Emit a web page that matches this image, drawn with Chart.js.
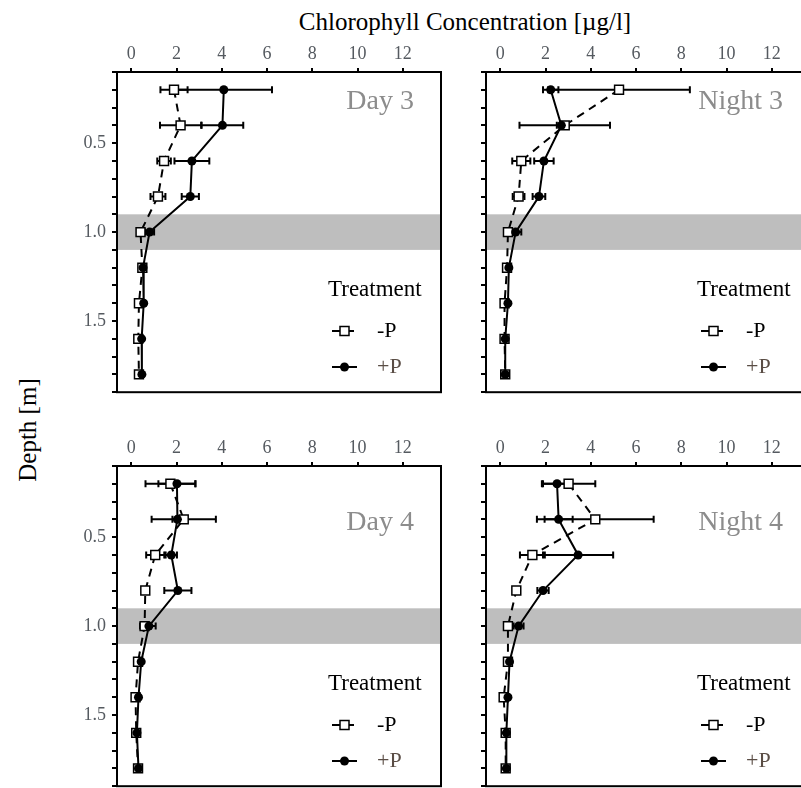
<!DOCTYPE html>
<html>
<head>
<meta charset="utf-8">
<script src="https://cdn.jsdelivr.net/npm/chart.js@4"></script>
<style>
  html, body { margin: 0; padding: 0; background: #fff; }
  body { position: relative; width: 801px; height: 788px; overflow: hidden; font-family: "Liberation Serif", serif; }
  canvas { position: absolute; }
  .lbl { position: absolute; color: #000; white-space: nowrap; }
</style>
</head>
<body>
<div class="lbl" id="xTitle" style="left:465px; top:22px; font-size:25px; transform:translate(-50%,-50%);">Chlorophyll Concentration [µg/l]</div>
<div class="lbl" id="yTitle" style="left:28px; top:430px; font-size:25px; transform:translate(-50%,-50%) rotate(-90deg);">Depth [m]</div>
<canvas id="day3" width="390" height="360" style="left:60px; top:40px;"></canvas>
<canvas id="night3" width="380" height="360" style="left:440px; top:40px;"></canvas>
<canvas id="day4" width="390" height="360" style="left:60px; top:434px;"></canvas>
<canvas id="night4" width="380" height="360" style="left:440px; top:434px;"></canvas>
<script>
// Profundidades amostradas (m)
const depths = [0.2, 0.4, 0.6, 0.8, 1.0, 1.2, 1.4, 1.6, 1.8];
const treatments = ['-P', '+P'];

// Day 3
const day3MinusP   = [1.89, 2.18, 1.45, 1.18, 0.41, 0.49, 0.34, 0.31, 0.34];
const day3MinusPsd = [0.60, 0.91, 0.30, 0.33, 0.08, 0.05, 0.05, 0.04, 0.04];
const day3PlusP    = [4.09, 4.03, 2.68, 2.61, 0.81, 0.52, 0.55, 0.46, 0.47];
const day3PlusPsd  = [2.13, 0.92, 0.77, 0.38, 0.20, 0.08, 0.06, 0.05, 0.05];

// Night 3
const night3MinusP   = [5.25, 2.85, 0.93, 0.81, 0.34, 0.30, 0.19, 0.19, 0.22];
const night3MinusPsd = [3.13, 2.00, 0.40, 0.26, 0.08, 0.05, 0.05, 0.04, 0.04];
const night3PlusP    = [2.23, 2.70, 1.93, 1.71, 0.68, 0.38, 0.34, 0.22, 0.22];
const night3PlusPsd  = [0.34, 0.20, 0.43, 0.28, 0.25, 0.06, 0.05, 0.04, 0.04];

// Day 4
const day4MinusP   = [1.73, 2.32, 1.06, 0.62, 0.59, 0.30, 0.19, 0.22, 0.30];
const day4MinusPsd = [1.10, 1.42, 0.40, 0.05, 0.20, 0.05, 0.05, 0.04, 0.04];
const day4PlusP    = [2.02, 2.04, 1.77, 2.06, 0.78, 0.44, 0.32, 0.25, 0.32];
const day4PlusPsd  = [0.82, 0.22, 0.25, 0.60, 0.30, 0.06, 0.05, 0.04, 0.05];

// Night 4
const night4MinusP   = [3.02, 4.20, 1.42, 0.71, 0.34, 0.34, 0.15, 0.24, 0.24];
const night4MinusPsd = [1.18, 2.58, 0.55, 0.05, 0.08, 0.04, 0.04, 0.04, 0.04];
const night4PlusP    = [2.51, 2.58, 3.44, 1.89, 0.81, 0.41, 0.34, 0.27, 0.27];
const night4PlusPsd  = [0.62, 0.62, 1.55, 0.25, 0.22, 0.06, 0.05, 0.04, 0.04];

// Eixos
const xTicks = [0, 2, 4, 6, 8, 10, 12];
const yTicks = [0.1, 0.2, 0.3, 0.4, 0.5, 0.6, 0.7, 0.8, 0.9, 1.0, 1.1, 1.2, 1.3, 1.4, 1.5, 1.6, 1.7, 1.8, 1.9];
const yLabels = [0.5, 1.0, 1.5];
const thermoBand = [0.9, 1.1];

const FONT = '"Liberation Serif", "Times New Roman", serif';
const TICK_COLOR = '#555a60';

function pontos(means, sds) {
  return depths.map((d, i) => ({ x: means[i], y: d, sd: sds[i] }));
}

// Faixa cinza, barras de erro, moldura, titulo e legenda
const painelPlugin = {
  id: 'painel',
  beforeDatasetsDraw(chart) {
    const { ctx, chartArea: a, scales: { x, y } } = chart;
    ctx.save();
    ctx.fillStyle = '#bebebe';
    const y0 = y.getPixelForValue(thermoBand[0]);
    const y1 = y.getPixelForValue(thermoBand[1]);
    ctx.fillRect(a.left, y0, a.right - a.left, y1 - y0);

    ctx.strokeStyle = '#000';
    ctx.lineWidth = 2;
    ctx.setLineDash([]);
    chart.data.datasets.forEach(ds => {
      ds.data.forEach(p => {
        const py = y.getPixelForValue(p.y);
        const xl = x.getPixelForValue(p.x - p.sd);
        const xr = x.getPixelForValue(p.x + p.sd);
        ctx.beginPath();
        ctx.moveTo(xl, py); ctx.lineTo(xr, py);
        ctx.moveTo(xl, py - 3.5); ctx.lineTo(xl, py + 3.5);
        ctx.moveTo(xr, py - 3.5); ctx.lineTo(xr, py + 3.5);
        ctx.stroke();
      });
    });
    ctx.restore();
  },
  afterDraw(chart, args, opts) {
    const { ctx, chartArea: a } = chart;
    ctx.save();
    ctx.strokeStyle = '#000';
    ctx.lineWidth = 2;
    ctx.strokeRect(a.left, a.top, a.right - a.left, a.bottom - a.top);

    // titulo do painel
    ctx.font = '28px ' + FONT;
    ctx.fillStyle = '#8c8c8c';
    ctx.textAlign = 'right';
    ctx.textBaseline = 'middle';
    ctx.fillText(opts.title, a.right - 27, a.top + opts.titleY);

    // legenda
    const lx = a.left + 211;
    ctx.textAlign = 'left';
    ctx.fillStyle = '#000';
    ctx.font = '23px ' + FONT;
    ctx.fillText('Treatment', lx, a.top + 218);
    const rows = [a.top + 259, a.top + 295];
    chart.data.datasets.forEach((ds, i) => {
      const ry = rows[i];
      const x0 = a.left + 215, x1 = a.left + 240, xm = (x0 + x1) / 2;
      ctx.strokeStyle = '#000';
      ctx.lineWidth = 2;
      ctx.setLineDash(ds.borderDash || []);
      ctx.beginPath();
      ctx.moveTo(x0, ry); ctx.lineTo(x1, ry);
      ctx.stroke();
      ctx.setLineDash([]);
      if (ds.pointStyle === 'rect') {
        ctx.fillStyle = '#fff';
        ctx.lineWidth = 1.5;
        ctx.fillRect(xm - 4.5, ry - 4.5, 9, 9);
        ctx.strokeRect(xm - 4.5, ry - 4.5, 9, 9);
      } else {
        ctx.fillStyle = '#000';
        ctx.beginPath();
        ctx.arc(xm, ry, 4.5, 0, Math.PI * 2);
        ctx.fill();
      }
      ctx.font = '22px ' + FONT;
      ctx.fillStyle = i === 0 ? '#000' : '#5a4d45';
      ctx.fillText(ds.label, a.left + 260, ry);
    });
    ctx.restore();
  }
};

function criarPainel(id, title, titleY, minusP, minusPsd, plusP, plusPsd, esquerda) {
  const el = document.getElementById(id);
  const yW = esquerda ? 57 : 46;
  const padRight = el.width - 324 - yW;
  new Chart(el, {
    type: 'scatter',
    data: {
      datasets: [{
        label: treatments[0],
        data: pontos(minusP, minusPsd),
        showLine: true,
        borderColor: '#000',
        borderWidth: 2,
        borderDash: [8, 6],
        pointStyle: 'rect',
        pointRadius: 6.3,
        pointBackgroundColor: '#fff',
        pointBorderColor: '#000',
        pointBorderWidth: 1.5,
        order: 1
      }, {
        label: treatments[1],
        data: pontos(plusP, plusPsd),
        showLine: true,
        borderColor: '#000',
        borderWidth: 2,
        pointStyle: 'circle',
        pointRadius: 4.5,
        pointBackgroundColor: '#000',
        pointBorderColor: '#000',
        pointBorderWidth: 0,
        order: 0
      }]
    },
    options: {
      responsive: false,
      animation: false,
      devicePixelRatio: 1,
      layout: { padding: { left: 0, top: 0, right: padRight, bottom: 6 } },
      plugins: {
        legend: { display: false },
        tooltip: { enabled: false },
        painel: { title: title, titleY: titleY }
      },
      scales: {
        x: {
          type: 'linear',
          position: 'top',
          min: -0.63,
          max: 13.69,
          afterBuildTicks: s => { s.ticks = xTicks.map(v => ({ value: v })); },
          afterFit: s => { s.height = 32; s.paddingLeft = 0; s.paddingRight = 0; },
          ticks: { color: TICK_COLOR, font: { family: FONT, size: 18 }, padding: 3, autoSkip: false, maxRotation: 0 },
          grid: { drawOnChartArea: false, drawTicks: true, tickLength: 4, color: '#000', lineWidth: 2 },
          border: { display: false }
        },
        y: {
          type: 'linear',
          reverse: true,
          min: 0.1,
          max: 1.9,
          afterBuildTicks: s => { s.ticks = yTicks.map(v => ({ value: v })); },
          afterFit: s => { s.width = yW; s.paddingTop = 0; s.paddingBottom = 0; },
          ticks: {
            color: TICK_COLOR,
            font: { family: FONT, size: 18 },
            padding: 6,
            autoSkip: false,
            callback: v => (esquerda && yLabels.some(l => Math.abs(l - v) < 1e-6)) ? v.toFixed(1) : ''
          },
          grid: { drawOnChartArea: false, drawTicks: true, tickLength: 5, color: '#000', lineWidth: 2 },
          border: { display: false }
        }
      }
    },
    plugins: [painelPlugin]
  });
}

criarPainel('day3', 'Day 3', 30, day3MinusP, day3MinusPsd, day3PlusP, day3PlusPsd, true);
criarPainel('night3', 'Night 3', 30, night3MinusP, night3MinusPsd, night3PlusP, night3PlusPsd, false);
criarPainel('day4', 'Day 4', 57, day4MinusP, day4MinusPsd, day4PlusP, day4PlusPsd, true);
criarPainel('night4', 'Night 4', 57, night4MinusP, night4MinusPsd, night4PlusP, night4PlusPsd, false);
</script>
</body>
</html>
